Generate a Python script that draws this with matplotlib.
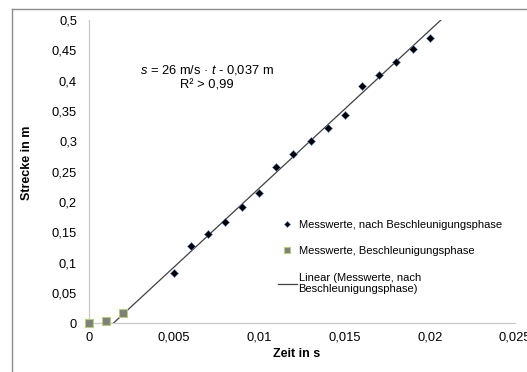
import numpy as np
import matplotlib
matplotlib.use('Agg')
import matplotlib.pyplot as plt
from matplotlib.lines import Line2D

plt.rcParams['font.family'] = ['Liberation Sans', 'DejaVu Sans']
plt.rcParams['mathtext.fontset'] = 'custom'
plt.rcParams['mathtext.rm'] = 'Liberation Sans'
plt.rcParams['mathtext.it'] = 'Liberation Sans:italic'

# Messwerte nach der Beschleunigungsphase
t_nach = [0.005, 0.006, 0.007, 0.008, 0.009, 0.010, 0.011, 0.012, 0.013,
          0.014, 0.015, 0.016, 0.017, 0.018, 0.019, 0.020]
s_nach = [0.083, 0.127, 0.148, 0.167, 0.192, 0.214, 0.257, 0.279, 0.301,
          0.322, 0.344, 0.391, 0.409, 0.431, 0.452, 0.470]

# Messwerte in der Beschleunigungsphase
t_beschl = [0.0, 0.001, 0.002]
s_beschl = [0.0, 0.004, 0.017]

# Trendlinie s = a*t + b
slope = 26.0
intercept = -0.037

xticks = [0, 0.005, 0.01, 0.015, 0.02, 0.025]
yticks = [0, 0.05, 0.1, 0.15, 0.2, 0.25, 0.3, 0.35, 0.4, 0.45, 0.5]


def de_label(v):
    return ('%g' % v).replace('.', ',')


W, H = 527, 372
fs = 9.3
fig = plt.figure(figsize=(W / 100, H / 100), dpi=100)
ax = fig.add_axes([89 / W, (H - 323.3) / H, (515 - 89) / W, (323.3 - 20) / H])

# Rahmen um das Diagramm
frame = dict(color='#8c8c8c', lw=1.0, transform=fig.transFigure)
fig.add_artist(Line2D([11.5 / W, 1.1], [1 - 8.5 / H, 1 - 8.5 / H], **frame))
fig.add_artist(Line2D([11.5 / W, 11.5 / W], [-0.1, 1 - 8.5 / H], **frame))

t_fit = np.array([-intercept / slope, (0.5 - intercept) / slope])
s_fit = slope * t_fit + intercept
ax.plot(t_fit, s_fit, color='#404040', lw=0.9, zorder=2,
        label='Linear (Messwerte, nach\nBeschleunigungsphase)')

ax.plot(t_nach, s_nach, ls='none', marker='D', ms=4.4, color='black',
        mec='#5b86c5', mew=0.4, zorder=3,
        label='Messwerte, nach Beschleunigungsphase')
ax.plot(t_beschl, s_beschl, ls='none', marker='s', ms=5.5, color='#7f7f7f',
        mec='#b5d06f', mew=0.8, zorder=3, clip_on=False,
        label='Messwerte, Beschleunigungsphase')

ax.set_xlim(0, 0.025)
ax.set_ylim(0, 0.5)
ax.set_xticks(xticks)
ax.set_xticklabels([de_label(v) for v in xticks])
ax.set_yticks(yticks)
ax.set_yticklabels([de_label(v) for v in yticks])
ax.tick_params(length=0, labelsize=fs, colors='black')
ax.tick_params(axis='y', pad=8.6)
ax.tick_params(axis='x', pad=6)
for side in ['top', 'right']:
    ax.spines[side].set_visible(False)
for side in ['left', 'bottom']:
    ax.spines[side].set_color('#c8c8c8')
    ax.spines[side].set_linewidth(0.9)

fig.text(27 / W, 1 - 163 / H, 'Strecke in m', rotation=90, fontsize=9,
         fontweight='bold', ha='center', va='center')
fig.text(297 / W, 1 - 354 / H, 'Zeit in s', fontsize=9,
         fontweight='bold', ha='center', va='center')

fig.text(207 / W, 1 - 70 / H, r'$s$ = 26 m/s · $t$ - 0,037 m', fontsize=fs,
         ha='center', va='center')
fig.text(207 / W, 1 - 86 / H, 'R² > 0,99', fontsize=fs,
         ha='center', va='center')

h, l = ax.get_legend_handles_labels()
order = [1, 2, 0]
leg = ax.legend([h[i] for i in order], [l[i] for i in order],
                loc='upper left', bbox_to_anchor=(278 / W, 1 - 220 / H),
                bbox_transform=fig.transFigure, frameon=False, fontsize=8,
                handlelength=1.7, handletextpad=0.15, labelspacing=1.47,
                borderaxespad=0, borderpad=0, markerscale=0.7)

fig.savefig('out.png', dpi=100)
